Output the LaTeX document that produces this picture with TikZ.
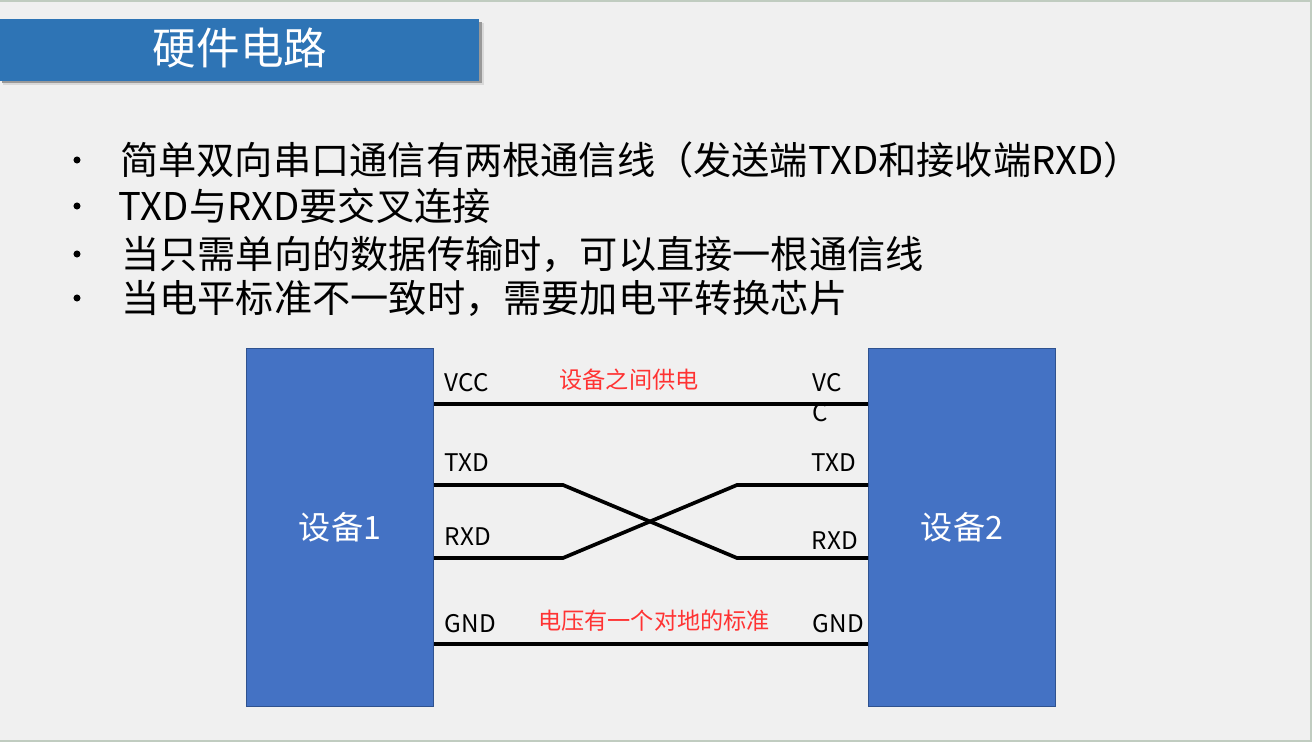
\documentclass[tikz,border=0pt]{standalone}
\usepackage{fontspec}
\setmainfont{Noto Sans CJK SC}
\usepackage{xcolor}
\usepackage{tikz}
\usetikzlibrary{positioning,calc,shadows}
\definecolor{pagegray}{HTML}{F0F0F0}
\definecolor{edgegreen}{HTML}{C0CCC0}
\definecolor{titleblue}{HTML}{2E74B5}
\definecolor{devblue}{HTML}{4472C4}
\definecolor{devedge}{HTML}{2F528F}
\definecolor{notered}{HTML}{FF3333}
\tikzset{
  devbox/.style={draw=devedge,fill=devblue,line width=0.5pt,text=white,font=\fontsize{18.3}{18.3}\selectfont,minimum width=106.4,minimum height=204,inner sep=0pt},
  wire/.style={line width=2.1pt,black},
  pinlab/.style={font=\fontsize{13.8}{13.8}\selectfont,text=black,inner sep=0pt},
  notelab/.style={font=\fontsize{13.2}{13.2}\selectfont,text=notered,inner sep=0pt},
  itemlab/.style={font=\fontsize{21.75}{21.75}\selectfont,text=black,inner sep=0pt,anchor=west},
  dotlab/.style={circle,fill=black,inner sep=0pt,minimum size=4pt},
}
\begin{document}
\begin{tikzpicture}[x=0.02cm,y=-0.02cm]
  \useasboundingbox (0,0) rectangle (1312,742);
  \fill[edgegreen] (0,0) rectangle (1312,742);
  \fill[pagegray] (0,2) rectangle (1310,740);
  % titel
  \fill[black!15] (3,23) rectangle (484,85);
  \fill[black!40] (2,22) rectangle (482,83);
  \node[fill=titleblue,minimum width=272.6,minimum height=35.4,inner sep=0pt] (titlebar) at (239.5,50) {};
  \node[text=white,font=\fontsize{24.8}{24.8}\selectfont,inner sep=0pt] (titletxt) at (240,48) {硬件电路};
  % punkte
  \foreach \n/\x/\y/\t in {a/120/160/简单双向串口通信有两根通信线（发送端TXD和接收端RXD）,b/118.5/206/TXD与RXD要交叉连接,c/121/254/当只需单向的数据传输时，可以直接一根通信线,d/121/298/当电平标准不一致时，需要加电平转换芯片}{%
    \node[dotlab] (dot\n) at (77,\y) {};
    \node[itemlab] (item\n) at (\x,\y) {\t};}
  % geraete
  \node[devbox] (dev1) at (340,527.5) {设备1};
  \node[devbox] (dev2) at (962,527.5) {设备2};
  \coordinate (vccL) at (434,404);
  \coordinate (vccR) at (868,404);
  \coordinate (txdL) at (434,485);
  \coordinate (txdR) at (868,485);
  \coordinate (rxdL) at (434,558);
  \coordinate (rxdR) at (868,558);
  \coordinate (gndL) at (434,644);
  \coordinate (gndR) at (868,644);
  \coordinate (crossA) at (563,485);
  \coordinate (crossB) at (737,558);
  \coordinate (crossC) at (563,558);
  \coordinate (crossD) at (737,485);
  \draw[wire] (vccL)--(vccR);
  \draw[wire] (gndL)--(gndR);
  \draw[wire] (txdL)--(crossA)--(crossB)--(rxdR);
  \draw[wire] (rxdL)--(crossC)--(crossD)--(txdR);
  % beschriftung
  \foreach \n/\x/\y/\t in {va/444.5/383/VCC,ta/444.5/463/TXD,ra/444.5/537/RXD,ga/444.5/624/GND,vb/812.5/383/VC,vc/812.5/413/C,tb/811.5/463/TXD,rb/811.5/541/RXD,gb/812.5/624/GND}{%
    \node[pinlab,anchor=west] (pin\n) at (\x,\y) {\t};}
  \node[notelab] (notevcc) at (629,380) {设备之间供电};
  \node[notelab] (notegnd) at (654,620.5) {电压有一个对地的标准};
\end{tikzpicture}
\end{document}
